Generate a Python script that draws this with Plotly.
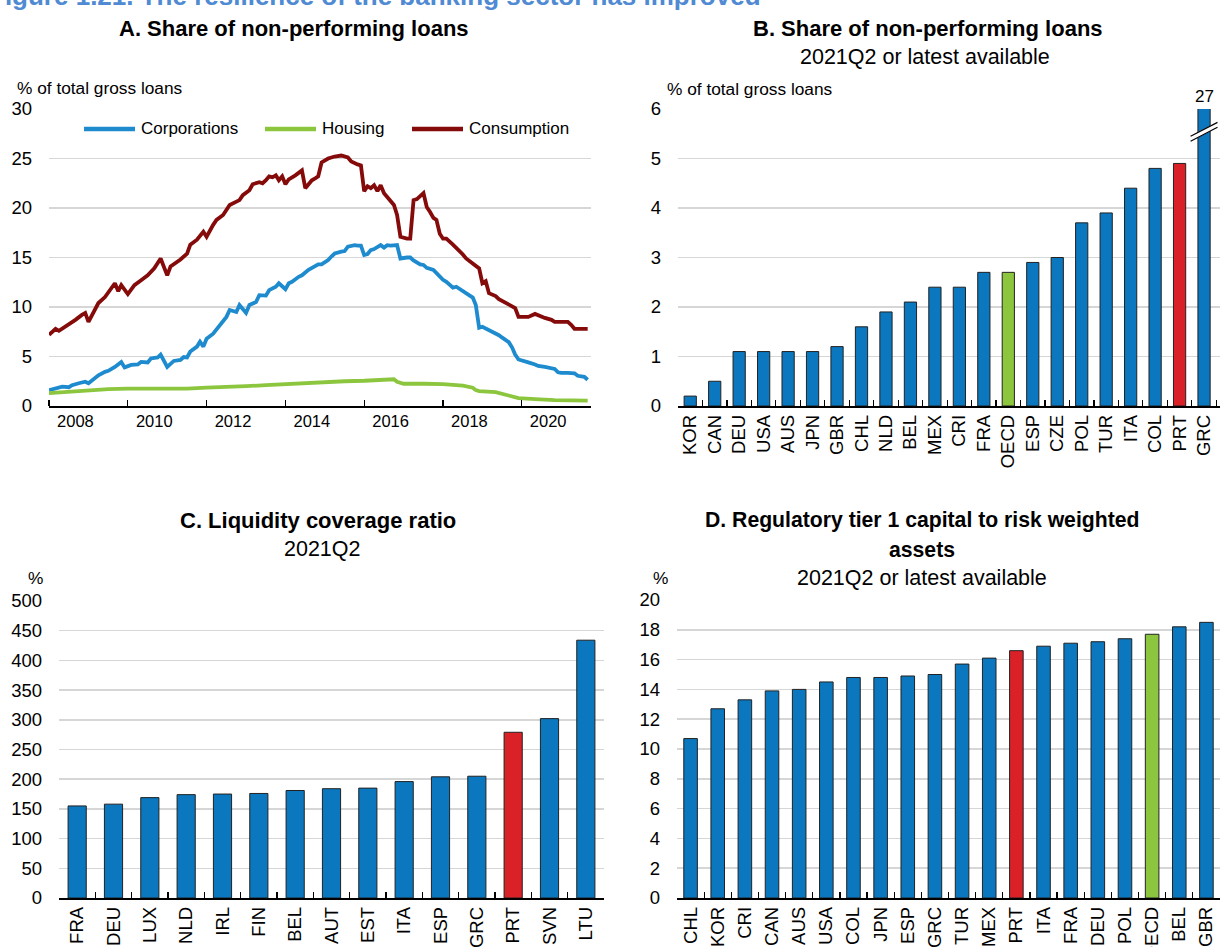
import plotly.graph_objects as go

# ---------- data ----------
# Panel A: share of non-performing loans, % of total gross loans (monthly readings)
cons_dates = ["2007-05", "2007-07", "2007-08", "2007-11", "2008-01", "2008-03", "2008-04", "2008-05",
              "2008-08", "2008-10", "2009-01", "2009-02", "2009-03", "2009-05", "2009-07", "2009-09",
              "2009-11", "2010-01", "2010-03", "2010-05", "2010-06", "2010-09", "2010-11", "2010-12",
              "2011-02", "2011-04", "2011-05", "2011-07", "2011-08", "2011-10", "2011-11", "2011-12",
              "2012-03", "2012-04", "2012-06", "2012-07", "2012-09", "2012-10", "2012-11", "2012-12",
              "2013-01", "2013-02", "2013-03", "2013-04", "2013-05", "2013-06", "2013-08", "2013-10",
              "2013-11", "2014-01", "2014-02", "2014-03", "2014-04", "2014-06", "2014-08", "2014-10",
              "2014-12", "2015-01", "2015-03", "2015-04", "2015-05", "2015-06", "2015-07", "2015-08",
              "2015-09", "2015-10", "2015-11", "2015-12", "2016-02", "2016-03", "2016-04", "2016-06",
              "2016-07", "2016-08", "2016-09", "2016-11", "2016-12", "2017-01", "2017-02", "2017-03",
              "2017-04", "2017-05", "2017-06", "2017-08", "2017-09", "2017-11", "2017-12", "2018-02",
              "2018-04", "2018-05", "2018-06", "2018-07", "2018-09", "2018-10", "2018-12", "2019-01",
              "2019-03", "2019-04", "2019-06", "2019-07", "2019-09", "2019-11", "2019-12", "2020-02",
              "2020-03", "2020-05", "2020-07", "2020-08", "2020-09", "2020-11", "2021-01"]
consumption = [7.2, 7.8, 7.6, 8.2, 8.7, 9.2, 9.4, 8.5,
               10.4, 11.0, 12.4, 11.6, 12.2, 11.3, 12.2, 12.7,
               13.2, 13.9, 14.9, 13.2, 14.1, 14.8, 15.4, 16.3,
               16.8, 17.6, 17.1, 18.3, 18.8, 19.3, 19.8, 20.3,
               20.8, 21.3, 21.8, 22.4, 22.6, 22.5, 22.8, 23.2,
               23.1, 23.3, 22.8, 23.2, 22.4, 22.9, 23.3, 23.8,
               22.0, 22.8, 23.0, 23.2, 24.6, 25.0, 25.2, 25.3,
               25.1, 24.7, 24.4, 24.3, 21.7, 22.2, 22.0, 22.3,
               21.7, 22.3, 21.5, 21.1, 20.3, 19.3, 17.1, 16.9,
               16.9, 20.8, 20.9, 21.5, 20.1, 19.6, 19.0, 18.8,
               17.4, 16.9, 16.9, 16.3, 16.0, 15.3, 14.9, 14.4,
               13.9, 12.4, 12.6, 11.4, 11.1, 10.8, 10.4, 10.2,
               9.9, 9.0, 9.0, 9.0, 9.3, 9.0, 8.9, 8.7,
               8.5, 8.5, 8.5, 8.2, 7.8, 7.8, 7.8]

corp_dates = ["2007-05", "2007-07", "2007-09", "2007-11", "2007-12", "2008-02", "2008-03", "2008-04",
              "2008-05", "2008-06", "2008-08", "2008-10", "2008-11", "2009-01", "2009-02", "2009-03",
              "2009-04", "2009-06", "2009-08", "2009-09", "2009-11", "2009-12", "2010-02", "2010-03",
              "2010-05", "2010-06", "2010-07", "2010-09", "2010-10", "2010-11", "2010-12", "2011-02",
              "2011-03", "2011-04", "2011-05", "2011-07", "2011-09", "2011-10", "2011-11", "2011-12",
              "2012-02", "2012-03", "2012-05", "2012-06", "2012-08", "2012-09", "2012-11", "2012-12",
              "2013-02", "2013-03", "2013-05", "2013-06", "2013-07", "2013-09", "2013-10", "2013-12",
              "2014-01", "2014-03", "2014-04", "2014-06", "2014-07", "2014-08", "2014-10", "2014-11",
              "2014-12", "2015-02", "2015-03", "2015-04", "2015-05", "2015-06", "2015-07", "2015-08",
              "2015-10", "2015-11", "2015-12", "2016-01", "2016-03", "2016-04", "2016-06", "2016-07",
              "2016-08", "2016-10", "2016-11", "2016-12", "2017-02", "2017-03", "2017-05", "2017-06",
              "2017-08", "2017-09", "2017-11", "2017-12", "2018-02", "2018-03", "2018-04", "2018-05",
              "2018-07", "2018-08", "2018-10", "2018-11", "2019-01", "2019-02", "2019-03", "2019-04",
              "2019-06", "2019-07", "2019-09", "2019-10", "2019-12", "2020-01", "2020-03", "2020-04",
              "2020-05", "2020-07", "2020-09", "2020-10", "2020-12", "2021-01"]
corporations = [1.6, 1.8, 1.95, 1.9, 2.1, 2.3, 2.35, 2.45,
                2.3, 2.6, 3.1, 3.45, 3.55, 3.95, 4.2, 4.45,
                3.9, 4.15, 4.2, 4.45, 4.4, 4.8, 4.9, 5.2,
                3.95, 4.3, 4.55, 4.65, 4.95, 4.9, 5.5, 6.0,
                6.5, 6.0, 6.8, 7.3, 8.2, 8.7, 9.0, 9.7,
                9.5, 10.2, 9.4, 10.2, 10.5, 11.2, 11.15, 11.7,
                12.05, 12.4, 11.8, 12.4, 12.55, 13.05, 13.2, 13.75,
                13.95, 14.3, 14.3, 14.75, 15.1, 15.4, 15.6, 15.65,
                16.1, 16.25, 16.2, 16.2, 15.25, 15.35, 15.75, 15.85,
                16.25, 16.0, 16.25, 16.2, 16.25, 14.9, 15.0, 15.0,
                14.7, 14.3, 14.25, 13.95, 13.75, 13.4, 12.75, 12.55,
                11.95, 12.05, 11.6, 11.4, 10.95, 10.2, 7.9, 8.0,
                7.7, 7.5, 7.15, 6.9, 6.45, 5.9, 5.2, 4.7,
                4.55, 4.4, 4.2, 4.05, 3.95, 3.85, 3.75, 3.4,
                3.35, 3.35, 3.3, 3.05, 2.95, 2.65]

house_dates = ["2007-05", "2007-11", "2008-05", "2008-11", "2009-05", "2009-11", "2010-05", "2010-11",
               "2011-05", "2011-11", "2012-05", "2012-11", "2013-05", "2013-11", "2014-05", "2014-11",
               "2015-05", "2015-09", "2016-01", "2016-02", "2016-03", "2016-05", "2016-11", "2017-05",
               "2017-11", "2018-02", "2018-03", "2018-04", "2018-09", "2018-12", "2019-03", "2019-04",
               "2019-09", "2020-03", "2021-01"]
housing = [1.3, 1.45, 1.6, 1.7, 1.75, 1.75, 1.75, 1.75,
           1.85, 1.9, 2.0, 2.1, 2.2, 2.35, 2.45, 2.5,
           2.55, 2.65, 2.75, 2.7, 2.45, 2.25, 2.25, 2.2,
           2.05, 1.85, 1.6, 1.5, 1.4, 1.15, 0.95, 0.8,
           0.7, 0.6, 0.55]

year_labels = ["2008", "2010", "2012", "2014", "2016", "2018", "2020"]
period_marks = ["2007-05-01", "2009-05-01", "2011-05-01", "2013-05-01",
                "2015-05-01", "2017-05-01", "2019-05-01"]

# Panel B: share of non-performing loans, 2021Q2 or latest
npl_countries = ["KOR", "CAN", "DEU", "USA", "AUS", "JPN", "GBR", "CHL", "NLD", "BEL", "MEX",
                 "CRI", "FRA", "OECD", "ESP", "CZE", "POL", "TUR", "ITA", "COL", "PRT", "GRC"]
npl_values = [0.2, 0.5, 1.1, 1.1, 1.1, 1.1, 1.2, 1.6, 1.9, 2.1, 2.4,
              2.4, 2.7, 2.7, 2.9, 3.0, 3.7, 3.9, 4.4, 4.8, 4.9, 27]

# Panel C: liquidity coverage ratio, 2021Q2
lcr_countries = ["FRA", "DEU", "LUX", "NLD", "IRL", "FIN", "BEL", "AUT", "EST", "ITA",
                 "ESP", "GRC", "PRT", "SVN", "LTU"]
lcr_values = [155, 158, 169, 174, 175, 176, 181, 184, 185, 196, 204, 205, 279, 302, 434]

# Panel D: regulatory tier 1 capital to risk weighted assets
t1_countries = ["CHL", "KOR", "CRI", "CAN", "AUS", "USA", "COL", "JPN", "ESP", "GRC",
                "TUR", "MEX", "PRT", "ITA", "FRA", "DEU", "POL", "OECD", "BEL", "GBR"]
t1_values = [10.7, 12.7, 13.3, 13.9, 14.0, 14.5, 14.8, 14.8, 14.9, 15.0,
             15.7, 16.1, 16.6, 16.9, 17.1, 17.2, 17.4, 17.7, 18.2, 18.5]

# ---------- style ----------
W, H = 1220, 947
FONT = "Liberation Sans, Arial, sans-serif"
BLUE, RED, GREEN = "#0A77BE", "#DA2128", "#8CC63F"
C_CORP, C_HOUSE, C_CONS = "#1E8BCF", "#8CC63F", "#850A0A"
GRID = "#D6D6D6"


def px(x):
    return x / W


def py(y):
    return 1 - y / H


def bar_colors(cats):
    return [RED if c == "PRT" else GREEN if c == "OECD" else BLUE for c in cats]


fig = go.Figure()

for dates, vals, col, name in [(corp_dates, corporations, C_CORP, "Corporations"),
                               (house_dates, housing, C_HOUSE, "Housing"),
                               (cons_dates, consumption, C_CONS, "Consumption")]:
    fig.add_trace(go.Scatter(x=dates, y=vals, mode="lines", name=name, showlegend=False,
                             line=dict(color=col, width=3.8), xaxis="x", yaxis="y"))

for cats, vals, ax in [(npl_countries, npl_values, "2"),
                       (lcr_countries, lcr_values, "3"),
                       (t1_countries, t1_values, "4")]:
    fig.add_trace(go.Bar(x=cats, y=vals, showlegend=False,
                         marker=dict(color=bar_colors(cats), line=dict(color="#222222", width=1)),
                         xaxis="x" + ax, yaxis="y" + ax))


def yax(anchor, top, bottom, rng, step):
    return dict(anchor=anchor, domain=[py(bottom), py(top)], range=rng, dtick=step,
                showgrid=True, gridcolor=GRID, gridwidth=1.5, zeroline=False, showline=False,
                ticks="", ticklabelstandoff=16, fixedrange=True, automargin=False,
                tickfont=dict(family=FONT, size=18.5, color="black"))


def catx(anchor, left, right):
    return dict(anchor=anchor, domain=[px(left), px(right)], type="category",
                showline=True, linecolor="black", linewidth=1.5, ticks="inside",
                ticklen=6, tickwidth=1.2, tickcolor="black", tickson="boundaries",
                tickangle=-90, showgrid=False, automargin=False, fixedrange=True,
                tickfont=dict(family=FONT, size=18.5, color="black"))


fig.update_layout(
    width=W, height=H, margin=dict(l=0, r=0, t=0, b=0, autoexpand=False),
    paper_bgcolor="white", plot_bgcolor="white", bargap=0.5,
    font=dict(family=FONT, color="black"), hovermode=False,
    xaxis=dict(anchor="y", domain=[px(49), px(591)], type="date",
               range=["2007-05-01", "2021-02-01"], automargin=False, fixedrange=True,
               tickvals=[y + "-01-01" for y in year_labels], ticktext=year_labels,
               ticks="", showgrid=False, showline=True, linecolor="black", linewidth=1.5,
               tickfont=dict(family=FONT, size=16.5, color="black"),
               minor=dict(tickvals=period_marks, ticks="inside", ticklen=6, tickwidth=1.2,
                          tickcolor="black", showgrid=False)),
    yaxis=yax("x", 109, 406, [0, 30], 5),
    xaxis2=catx("y2", 678, W),
    yaxis2=yax("x2", 109, 406, [0, 6], 1),
    xaxis3=catx("y3", 59, 604),
    yaxis3=yax("x3", 601, 898, [0, 500], 50),
    xaxis4=catx("y4", 677, W),
    yaxis4=yax("x4", 600, 898, [0, 20], 2),
)


def note(text, x, y, size, anchor="center", bold=False, color="black"):
    fig.add_annotation(text="<b>%s</b>" % text if bold else text, x=px(x), y=py(y),
                       xref="paper", yref="paper", xanchor=anchor, yanchor="middle",
                       showarrow=False, font=dict(family=FONT, size=size, color=color))


# figure heading, cut at the top edge as in the source
fig.add_annotation(text="<b>Figure 1.21. The resilience of the banking sector has improved</b>",
                   x=px(-13), y=py(13), xref="paper", yref="paper", xanchor="left",
                   yanchor="bottom", showarrow=False,
                   font=dict(family=FONT, size=26, color="#4F8AD2"))

note("A. Share of non-performing loans", 294, 28, 22, bold=True)
note("B. Share of non-performing loans", 928, 28, 22, bold=True)
note("2021Q2 or latest available", 925, 57, 21.5)
note("C. Liquidity coverage ratio", 318, 520, 22, bold=True)
note("2021Q2", 322, 549, 21.5)
note("D. Regulatory tier 1 capital to risk weighted", 922, 520, 21.2, bold=True)
note("assets", 922, 549, 21.2, bold=True)
note("2021Q2 or latest available", 922, 578, 21.5)

note("% of total gross loans", 15, 88, 17.3, anchor="left")
note("% of total gross loans", 665, 89, 17.3, anchor="left")
note("%", 26, 578, 17.3, anchor="left")
note("%", 651, 578, 17.3, anchor="left")

# legend for panel A
for x0, col, name in [(84, C_CORP, "Corporations"), (265, C_HOUSE, "Housing"),
                      (412, C_CONS, "Consumption")]:
    fig.add_shape(type="line", xref="paper", yref="paper", x0=px(x0), x1=px(x0 + 51),
                  y0=py(129), y1=py(129), line=dict(color=col, width=4.5))
    note(name, x0 + 55, 129, 17, anchor="left")

# axis break on the GRC bar and its true value
gi = npl_countries.index("GRC")
ytop = 6
for dy, col, w in [(0, "white", 5), (-0.05, "black", 1.2), (0.05, "black", 1.2)]:
    fig.add_shape(type="line", xref="x2", yref="y2", x0=gi - 0.55, x1=gi + 0.55,
                  y0=ytop * 0.9 + dy, y1=ytop * 0.9 + 0.28 + dy, line=dict(color=col, width=w))
fig.add_annotation(x="GRC", y=ytop, xref="x2", yref="y2", text=str(npl_values[gi]),
                   yanchor="bottom", showarrow=False, yshift=1,
                   font=dict(family=FONT, size=17, color="black"))

fig.write_html("out.html", config={"displayModeBar": False, "staticPlot": True},
               post_script="document.body.style.margin='0px';")
